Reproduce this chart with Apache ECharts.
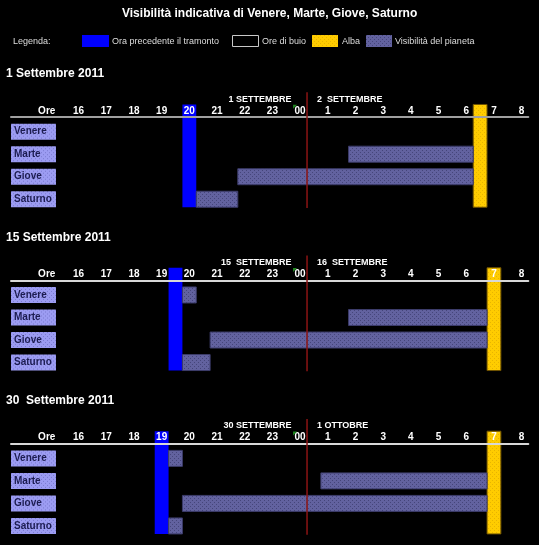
<!DOCTYPE html>
<html>
<head>
<meta charset="utf-8">
<style>
  html, body { margin: 0; padding: 0; background: #000; }
  #main { width: 539px; height: 545px; }
</style>
<script src="https://cdn.jsdelivr.net/npm/echarts@6/dist/echarts.min.js"></script>
</head>
<body>
<div id="main"></div>
<script>
// hours after midnight are counted on as 24, 25, ... so one night is one axis
const planets = ['Venere', 'Marte', 'Giove', 'Saturno']
const hourTicks = [16, 17, 18, 19, 20, 21, 22, 23, 24, 25, 26, 27, 28, 29, 30, 31, 32]
const oreTick = 14.85
const panelTitles = ['1 Settembre 2011', '15 Settembre 2011', '30  Settembre 2011']
const dayLabels = [
  ['1 SETTEMBRE', '2  SETTEMBRE'],
  ['15  SETTEMBRE', '16  SETTEMBRE'],
  ['30 SETTEMBRE', '1 OTTOBRE']
]
const sunsetHour = [[19.75, 20.25], [19.25, 19.75], [18.75, 19.25]]
const dawnHour = [[30.25, 30.75], [30.75, 31.25], [30.75, 31.25]]
const midnight = 24.25
// [start, end] per planet, null = not visible
const visibility1 = [null, [25.75, 30.25], [21.75, 30.25], [20.25, 21.75]]
const visibility15 = [[19.75, 20.25], [25.75, 30.75], [20.75, 30.75], [19.75, 20.75]]
const visibility30 = [[19.25, 19.75], [24.75, 30.75], [19.75, 30.75], [19.25, 19.75]]
const visibility = [visibility1, visibility15, visibility30]

const gridTops = [117, 280.3, 443.7]
const gridHeight = 93.5
const font = '"Liberation Sans", Arial, sans-serif'

function dottedCanvas(w, h, base, dot) {
  const c = document.createElement('canvas')
  c.width = w
  c.height = h
  const g = c.getContext('2d')
  g.fillStyle = base
  g.fillRect(0, 0, w, h)
  g.fillStyle = dot
  for (let y = 0; y < h; y += 2) {
    for (let x = (y % 4 === 0 ? 0 : 2); x < w; x += 4) g.fillRect(x, y, 1, 1)
  }
  return c
}

const planetFill = { image: dottedCanvas(8, 8, '#62629f', '#45457a'), repeat: 'repeat' }
const dawnFill = { image: dottedCanvas(8, 8, '#ffcc00', '#e8b400'), repeat: 'repeat' }
const nameBox = { image: dottedCanvas(45, 16, '#9c9cf2', '#7a7ad0') }

function renderSpan(params, api) {
  const a = api.coord([api.value(0), api.value(2)])
  const b = api.coord([api.value(1), api.value(2)])
  return {
    type: 'rect',
    shape: { x: a[0], y: a[1] - 8, width: b[0] - a[0], height: 16 },
    style: { fill: planetFill, stroke: '#3c3c6a', lineWidth: 1 }
  }
}

function columnRenderer(fill, stroke) {
  return function(params, api) {
    const top = api.coord([api.value(0), 0])
    const bottom = api.coord([api.value(1), 3])
    return {
      type: 'rect',
      shape: { x: top[0], y: top[1] - 27.2, width: bottom[0] - top[0], height: bottom[1] + 8 - top[1] + 27.2 },
      style: { fill: fill, stroke: stroke, lineWidth: stroke ? 1 : 0 }
    }
  }
}

function midnightRenderer(labels) {
  return function(params, api) {
    const top = api.coord([api.value(0), 0])
    const bottom = api.coord([api.value(0), 3])
    const x = top[0]
    const ty = top[1] - 32.5
    return {
      type: 'group',
      children: [
        { type: 'line', shape: { x1: x, y1: top[1] - 39.5, x2: x, y2: bottom[1] + 8.7 },
          style: { stroke: '#8c1414', lineWidth: 1.5 } },
        { type: 'text', x: x - 15.5, y: ty,
          style: { text: labels[0], fill: '#fff', font: 'bold 9px ' + font, align: 'right', verticalAlign: 'middle' } },
        { type: 'text', x: x + 10, y: ty,
          style: { text: labels[1], fill: '#fff', font: 'bold 9px ' + font, align: 'left', verticalAlign: 'middle' } },
        { type: 'polygon', shape: { points: [[x - 14, top[1] - 27], [x - 10, top[1] - 27], [x - 14, top[1] - 23]] },
          style: { fill: '#1f8a1f' } }
      ]
    }
  }
}

const grids = []
const xAxes = []
const yAxes = []
const series = []
const titles = [{
  text: 'Visibilità indicativa di Venere, Marte, Giove, Saturno',
  left: 117, top: 3,
  textStyle: { color: '#fff', fontSize: 12, fontWeight: 'bold', fontFamily: font }
}]

gridTops.forEach(function(top, i) {
  grids.push({ left: 11, right: 10.7, top: top, height: gridHeight })
  titles.push({
    text: panelTitles[i], left: 1, top: top - 54,
    textStyle: { color: '#fff', fontSize: 12, fontWeight: 'bold', fontFamily: font }
  })
  xAxes.push({
    gridIndex: i, type: 'value', position: 'top', min: 13.56, max: 32.24,
    splitLine: { show: false }, axisTick: { show: false },
    axisLine: { show: true, onZero: false, lineStyle: { color: i === 0 ? '#a0a0a0' : '#d8d8d8', width: 2 } },
    axisLabel: {
      customValues: [oreTick].concat(hourTicks), margin: 1,
      color: '#fff', fontSize: 10, fontWeight: 'bold', fontFamily: font,
      formatter: function(v) {
        if (v < 15.5) return 'Ore'
        if (v === 24) return '00'
        return String(v > 24 ? v - 24 : v)
      }
    }
  })
  yAxes.push({
    gridIndex: i, type: 'value', inverse: true, min: -0.652, max: 3.5,
    splitLine: { show: false }, axisTick: { show: false }, axisLine: { show: false },
    axisLabel: {
      customValues: [0, 1, 2, 3], inside: true, margin: 0,
      color: '#1c1c50', fontSize: 10, fontWeight: 'bold', fontFamily: font,
      backgroundColor: nameBox, width: 39, lineHeight: 12, padding: [2, 3], align: 'left',
      formatter: function(v) { return planets[v] }
    }
  })
  series.push({
    name: 'Ora precedente il tramonto', type: 'custom', xAxisIndex: i, yAxisIndex: i, z: -1,
    renderItem: columnRenderer('#0000ff', null), data: [sunsetHour[i]]
  })
  series.push({
    name: 'Alba', type: 'custom', xAxisIndex: i, yAxisIndex: i, z: -1,
    renderItem: columnRenderer(dawnFill, '#6e5200'), data: [dawnHour[i]]
  })
  series.push({
    name: 'Visibilità del pianeta', type: 'custom', xAxisIndex: i, yAxisIndex: i,
    renderItem: renderSpan,
    data: visibility[i].map(function(s, row) { return s ? [s[0], s[1], row] : null }).filter(Boolean)
  })
  series.push({
    type: 'custom', xAxisIndex: i, yAxisIndex: i, z: 3,
    renderItem: midnightRenderer(dayLabels[i]), data: [[midnight]]
  })
})

const legendFont = '9px ' + font
const graphic = [
  { type: 'text', left: 13, top: 37, style: { text: 'Legenda:', fill: '#ddd', font: legendFont } },
  { type: 'rect', left: 82, top: 35, shape: { width: 27, height: 12 }, style: { fill: '#0000ff' } },
  { type: 'text', left: 112, top: 37, style: { text: 'Ora precedente il tramonto', fill: '#ddd', font: legendFont } },
  { type: 'rect', left: 232, top: 35, shape: { width: 26, height: 11 }, style: { fill: '#000', stroke: '#c8c8c8', lineWidth: 1 } },
  { type: 'text', left: 262, top: 37, style: { text: 'Ore di buio', fill: '#ddd', font: legendFont } },
  { type: 'rect', left: 312, top: 35, shape: { width: 26, height: 12 }, style: { fill: dawnFill } },
  { type: 'text', left: 342, top: 37, style: { text: 'Alba', fill: '#ddd', font: legendFont } },
  { type: 'rect', left: 366, top: 35, shape: { width: 26, height: 12 }, style: { fill: planetFill } },
  { type: 'text', left: 395, top: 37, style: { text: 'Visibilità del pianeta', fill: '#ddd', font: legendFont } }
]

const chart = echarts.init(document.getElementById('main'), null, { renderer: 'canvas' })
chart.setOption({
  backgroundColor: '#000',
  animation: false,
  title: titles,
  grid: grids,
  xAxis: xAxes,
  yAxis: yAxes,
  graphic: graphic,
  series: series
})
</script>
</body>
</html>
